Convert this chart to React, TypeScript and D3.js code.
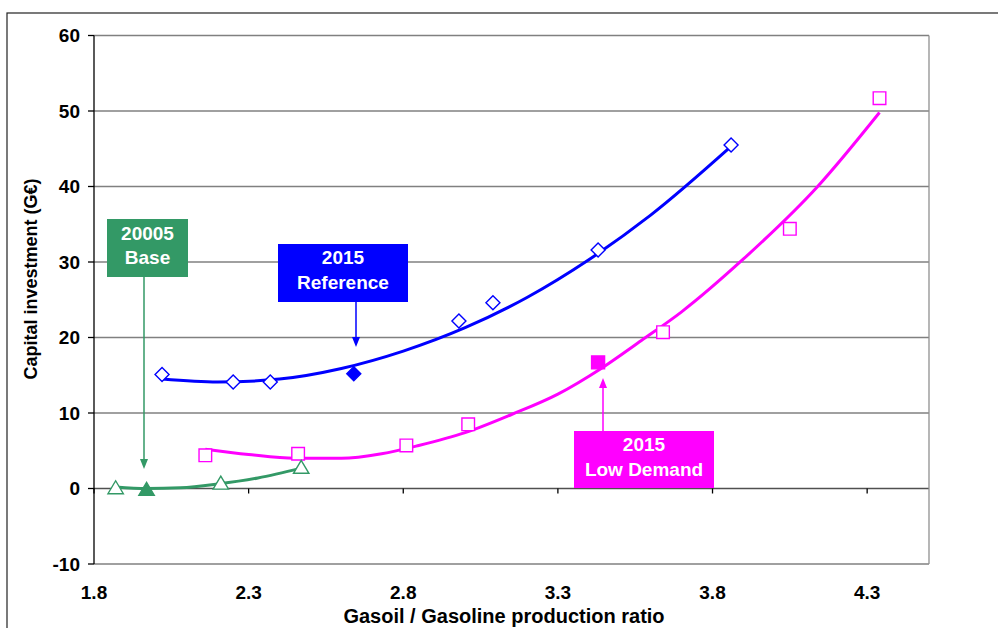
import React from "react";
import * as d3 from "d3";

// ---- data ----
const xTicks = [1.8, 2.3, 2.8, 3.3, 3.8, 4.3];
const yTicks = [-10, 0, 10, 20, 30, 40, 50, 60];

const refX = [2.02, 2.25, 2.37, 2.98, 3.09, 3.43, 3.86];
const refY = [15.1, 14.1, 14.1, 22.2, 24.6, 31.6, 45.5];
const ref2015 = [2.64, 15.2];
const refTrendX = [2.02, 2.2, 2.4, 2.6, 2.8, 3.0, 3.2, 3.4, 3.6, 3.86];
const refTrendY = [14.5, 14.1, 14.5, 15.9, 18.2, 21.3, 25.3, 30.3, 36.2, 45.3];

const lowX = [2.16, 2.46, 2.81, 3.01, 3.64, 4.05, 4.34];
const lowY = [4.4, 4.6, 5.7, 8.5, 20.7, 34.4, 51.7];
const low2015 = [3.43, 16.7];
const lowTrendX = [2.16, 2.3, 2.45, 2.6, 2.73, 2.85, 3.0, 3.15, 3.3, 3.44, 3.57, 3.7, 3.9, 4.14, 4.34];
const lowTrendY = [5.2, 4.5, 4.0, 4.0, 4.6, 5.7, 7.4, 9.8, 12.5, 15.9, 19.6, 23.4, 30.4, 40.0, 49.8];

const baseX = [1.87, 2.21, 2.47];
const baseY = [0.1, 0.7, 2.8];
const base2005 = [1.97, -0.1];
const baseTrendX = [1.87, 1.97, 2.08, 2.2, 2.33, 2.47];
const baseTrendY = [0.2, 0.0, 0.1, 0.6, 1.4, 2.7];

const GREEN = "#339966";
const BLUE = "#0000FF";
const MAGENTA = "#FF00FF";
const FONT = "'Liberation Sans', Arial, sans-serif";

export default function App() {
  const W = 998, H = 628;
  const x = d3.scaleLinear().domain([1.8, 4.5]).range([94, 929]);
  const y = d3.scaleLinear().domain([-10, 60]).range([564, 35.5]);
  const line = d3
    .line<[number, number]>()
    .x((d) => x(d[0]))
    .y((d) => y(d[1]))
    .curve(d3.curveMonotoneX);
  const zip = (a: number[], b: number[]) => a.map((v, i) => [v, b[i]] as [number, number]);

  const diamond = (cx: number, cy: number, r: number) =>
    `M${cx},${cy - r}L${cx + r},${cy}L${cx},${cy + r}L${cx - r},${cy}Z`;
  const square = (cx: number, cy: number, r: number) =>
    `M${cx - r},${cy - r}h${2 * r}v${2 * r}h${-2 * r}Z`;
  const tri = (cx: number, cy: number, r: number) =>
    `M${cx},${cy - r}L${cx + r * 1.1},${cy + r * 0.85}L${cx - r * 1.1},${cy + r * 0.85}Z`;

  const arrowDown = (ax: number, y0: number, y1: number, c: string) => (
    <g>
      <line x1={ax} y1={y0} x2={ax} y2={y1 - 8} stroke={c} strokeWidth={1.5} />
      <path d={`M${ax - 4},${y1 - 10}L${ax + 4},${y1 - 10}L${ax},${y1}Z`} fill={c} />
    </g>
  );
  const arrowUp = (ax: number, y0: number, y1: number, c: string) => (
    <g>
      <line x1={ax} y1={y0} x2={ax} y2={y1 + 8} stroke={c} strokeWidth={1.5} />
      <path d={`M${ax - 4},${y1 + 10}L${ax + 4},${y1 + 10}L${ax},${y1}Z`} fill={c} />
    </g>
  );

  const box = (x0: number, y0: number, w: number, h: number, c: string, l1: string, l2: string, t1: number, t2: number) => (
    <g>
      <rect x={x0} y={y0} width={w} height={h} fill={c} />
      <text x={x0 + w / 2} y={t1} fill="#fff" fontWeight="bold" fontSize={19} textAnchor="middle" dominantBaseline="central" fontFamily={FONT}>
        {l1}
      </text>
      <text x={x0 + w / 2} y={t2} fill="#fff" fontWeight="bold" fontSize={19} textAnchor="middle" dominantBaseline="central" fontFamily={FONT}>
        {l2}
      </text>
    </g>
  );

  return (
    <svg width={W} height={H} style={{ position: "absolute", left: 0, top: 0, background: "#fff" }} fontFamily={FONT}>
      {/* outer frame */}
      <rect x={7} y={13} width={1100} height={800} fill="none" stroke="#222" strokeWidth={1.2} />

      {/* gridlines */}
      {yTicks.map((t) => (
        <line key={"g" + t} x1={94} x2={929} y1={y(t)} y2={y(t)} stroke={t === 0 ? "#505050" : "#808080"} strokeWidth={1.3} />
      ))}
      {/* right border */}
      <line x1={929} x2={929} y1={y(60)} y2={y(-10)} stroke="#909090" strokeWidth={1.3} />
      {/* y axis */}
      <line x1={94} x2={94} y1={y(60)} y2={y(-10)} stroke="#000" strokeWidth={1.3} />
      {yTicks.map((t) => (
        <g key={"yt" + t}>
          <line x1={88} x2={94} y1={y(t)} y2={y(t)} stroke="#000" strokeWidth={1.3} />
          <text x={80} y={y(t)} textAnchor="end" dominantBaseline="central" fontSize={19} fontWeight="bold" fill="#000">
            {t}
          </text>
        </g>
      ))}
      {/* x ticks at zero line */}
      {xTicks.map((t) => (
        <g key={"xt" + t}>
          <line x1={x(t)} x2={x(t)} y1={y(0)} y2={y(0) + 5} stroke="#000" strokeWidth={1.3} />
          <text x={x(t)} y={599} textAnchor="middle" fontSize={19} fontWeight="bold" fill="#000">
            {t.toFixed(1)}
          </text>
        </g>
      ))}

      {/* axis titles */}
      <text x={504} y={623} textAnchor="middle" fontSize={20} fontWeight="bold" fill="#000">
        Gasoil / Gasoline production ratio
      </text>
      <text transform={`translate(31,279) rotate(-90)`} textAnchor="middle" dominantBaseline="central" fontSize={18} fontWeight="bold" fill="#000">
        Capital investment (G€)
      </text>

      {/* trend lines */}
      <path d={line(zip(refTrendX, refTrendY)) || ""} fill="none" stroke={BLUE} strokeWidth={3} />
      <path d={line(zip(lowTrendX, lowTrendY)) || ""} fill="none" stroke={MAGENTA} strokeWidth={3} />
      <path d={line(zip(baseTrendX, baseTrendY)) || ""} fill="none" stroke={GREEN} strokeWidth={3} />

      {/* markers */}
      {refX.map((v, i) => (
        <path key={"r" + i} d={diamond(x(v), y(refY[i]), 7)} fill="#fff" stroke={BLUE} strokeWidth={1.4} />
      ))}
      <path d={diamond(x(ref2015[0]), y(ref2015[1]), 7)} fill={BLUE} stroke={BLUE} strokeWidth={1.4} />

      {lowX.map((v, i) => (
        <path key={"l" + i} d={square(x(v), y(lowY[i]), 6.3)} fill="#fff" stroke={MAGENTA} strokeWidth={1.4} />
      ))}
      <path d={square(x(low2015[0]), y(low2015[1]), 6.5)} fill={MAGENTA} stroke={MAGENTA} strokeWidth={1.4} />

      {baseX.map((v, i) => (
        <path key={"b" + i} d={tri(x(v), y(baseY[i]), 7)} fill="#fff" stroke={GREEN} strokeWidth={1.4} />
      ))}
      <path d={tri(x(base2005[0]), y(base2005[1]), 7)} fill={GREEN} stroke={GREEN} strokeWidth={1.4} />

      {/* annotations */}
      {box(107, 219, 81, 58, GREEN, "20005", "Base", 233, 257)}
      {arrowDown(144, 277, 469, GREEN)}

      {box(278, 244, 130, 58, BLUE, "2015", "Reference", 257, 282)}
      {arrowDown(356, 302, 347, BLUE)}

      {box(574, 431, 140, 57, MAGENTA, "2015", "Low Demand", 444, 469)}
      {arrowUp(603, 431, 378, MAGENTA)}
    </svg>
  );
}
